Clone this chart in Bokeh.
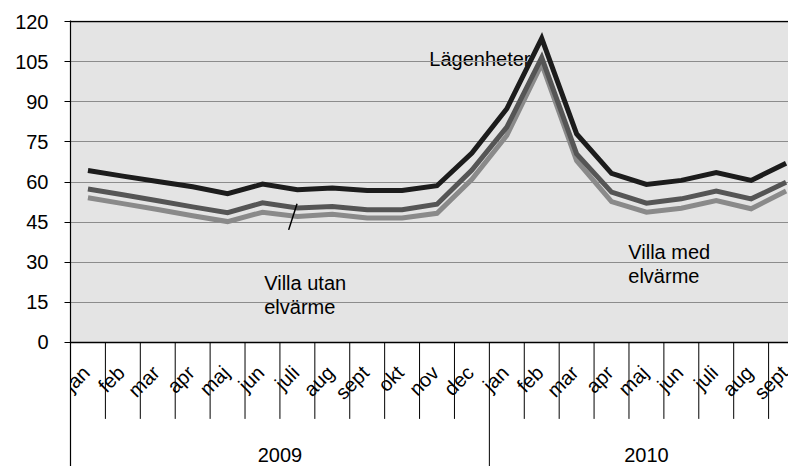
import math
from bokeh.plotting import figure
from bokeh.models import FixedTicker, Span
from bokeh.core.properties import value
from bokeh.embed import file_html
from bokeh.resources import INLINE

# ---- data ----
months = ["jan", "feb", "mar", "apr", "maj", "jun", "juli", "aug", "sept", "okt", "nov", "dec",
          "jan", "feb", "mar", "apr", "maj", "jun", "juli", "aug", "sept"]
years = ["2009", "2010"]
year_counts = [12, 9]
lagenheter = [64.3, 62.2, 60.2, 58.2, 55.6, 59.2, 57.1, 57.8, 56.8, 56.8, 58.6, 70.8,
              87.4, 113.7, 78.0, 63.2, 59.1, 60.6, 63.5, 60.6, 67.0]
villa_utan = [57.4, 55.2, 53.0, 50.7, 48.5, 52.2, 50.3, 50.8, 49.6, 49.6, 51.7, 64.5,
              80.5, 106.5, 70.5, 56.2, 52.1, 53.7, 56.6, 53.7, 59.9]
villa_med = [54.1, 51.9, 49.7, 47.4, 45.2, 48.7, 47.1, 47.9, 46.5, 46.5, 48.3, 61.0,
             77.4, 104.2, 68.0, 52.7, 48.7, 50.2, 53.1, 50.0, 56.6]
y_ticks = [0, 15, 30, 45, 60, 75, 90, 105, 120]

FONT = "Liberation Sans"
FS = "20px"

n = len(months)
xc = [i + 0.5 for i in range(n)]

p = figure(width=788, height=466, x_range=(0, 20.57), y_range=(-46.4, 120.4),
           output_backend="svg", toolbar_location=None,
           min_border_left=70, min_border_top=20, min_border_right=0, min_border_bottom=0)
p.background_fill_color = "white"
p.border_fill_color = "white"
p.outline_line_color = None
p.xaxis.visible = False
p.xgrid.visible = False

# plot area background
p.quad(left=[0], right=[n], bottom=[y_ticks[0]], top=[y_ticks[-1]],
       fill_color="#e4e4e4", line_color=None, level="image")

p.ygrid.ticker = FixedTicker(ticks=y_ticks[1:-1])
p.ygrid.grid_line_color = "#8c8c8c"
p.ygrid.grid_line_width = 1

p.yaxis.ticker = FixedTicker(ticks=y_ticks)
p.yaxis.axis_line_color = "black"
p.yaxis.axis_line_width = 1.2
p.yaxis.major_tick_line_color = "black"
p.yaxis.major_tick_out = 6
p.yaxis.major_tick_in = 0
p.yaxis.minor_tick_line_color = None
p.yaxis.major_label_standoff = 16
p.yaxis.major_label_text_font = FONT
p.yaxis.major_label_text_font_size = FS
p.yaxis.major_label_text_color = "black"

p.add_layout(Span(location=y_ticks[0], dimension="width", line_color="black", line_width=1.5))
p.add_layout(Span(location=y_ticks[-1], dimension="width", line_color="black", line_width=1.5))

# series
p.line(xc, villa_med, line_color="#8a8a8a", line_width=5, line_join="miter")
p.line(xc, villa_utan, line_color="#555555", line_width=5, line_join="miter")
p.line(xc, lagenheter, line_color="#1c1c1c", line_width=5, line_join="miter")

# category separators
bounds = []
acc = 0
for c in year_counts:
    acc += c
    bounds.append(acc)
sep_x0, sep_y0, sep_x1, sep_y1 = [], [], [], []
for i in range(1, n):
    sep_x0.append(i)
    sep_x1.append(i)
    sep_y0.append(0)
    sep_y1.append(-46.4 if i in bounds else -28.6)
p.segment(sep_x0, sep_y0, sep_x1, sep_y1, line_color="black", line_width=1)

# month labels
p.text(x=[v - 0.05 for v in xc], y=[-10.0] * n, text=months, angle=math.pi / 4,
       text_align="right", text_baseline="middle",
       text_font=value(FONT), text_font_size=value(FS), text_color="black")

# year labels
starts = [0] + bounds[:-1]
yx = [s + c / 2 for s, c in zip(starts, year_counts)]
p.text(x=yx, y=[-42.2] * len(years), text=years, text_align="center", text_baseline="middle",
       text_font=value(FONT), text_font_size=value(FS), text_color="black")

# series annotations
p.text(x=[10.28], y=[106.1], text=["Lägenheter"], text_align="left", text_baseline="alphabetic",
       text_font=value(FONT), text_font_size=value(FS), text_color="black", level="underlay")
p.text(x=[5.55, 5.55], y=[22.2, 13.2], text=["Villa utan", "elvärme"],
       text_align="left", text_baseline="alphabetic",
       text_font=value(FONT), text_font_size=value(FS), text_color="black")
p.segment(x0=[6.25], y0=[42.1], x1=[6.49], y1=[51.9], line_color="black", line_width=1.5)
p.text(x=[15.98, 15.98], y=[33.8, 24.8], text=["Villa med", "elvärme"],
       text_align="left", text_baseline="alphabetic",
       text_font=value(FONT), text_font_size=value(FS), text_color="black")

open("out.html", "w").write(file_html(p, INLINE))
